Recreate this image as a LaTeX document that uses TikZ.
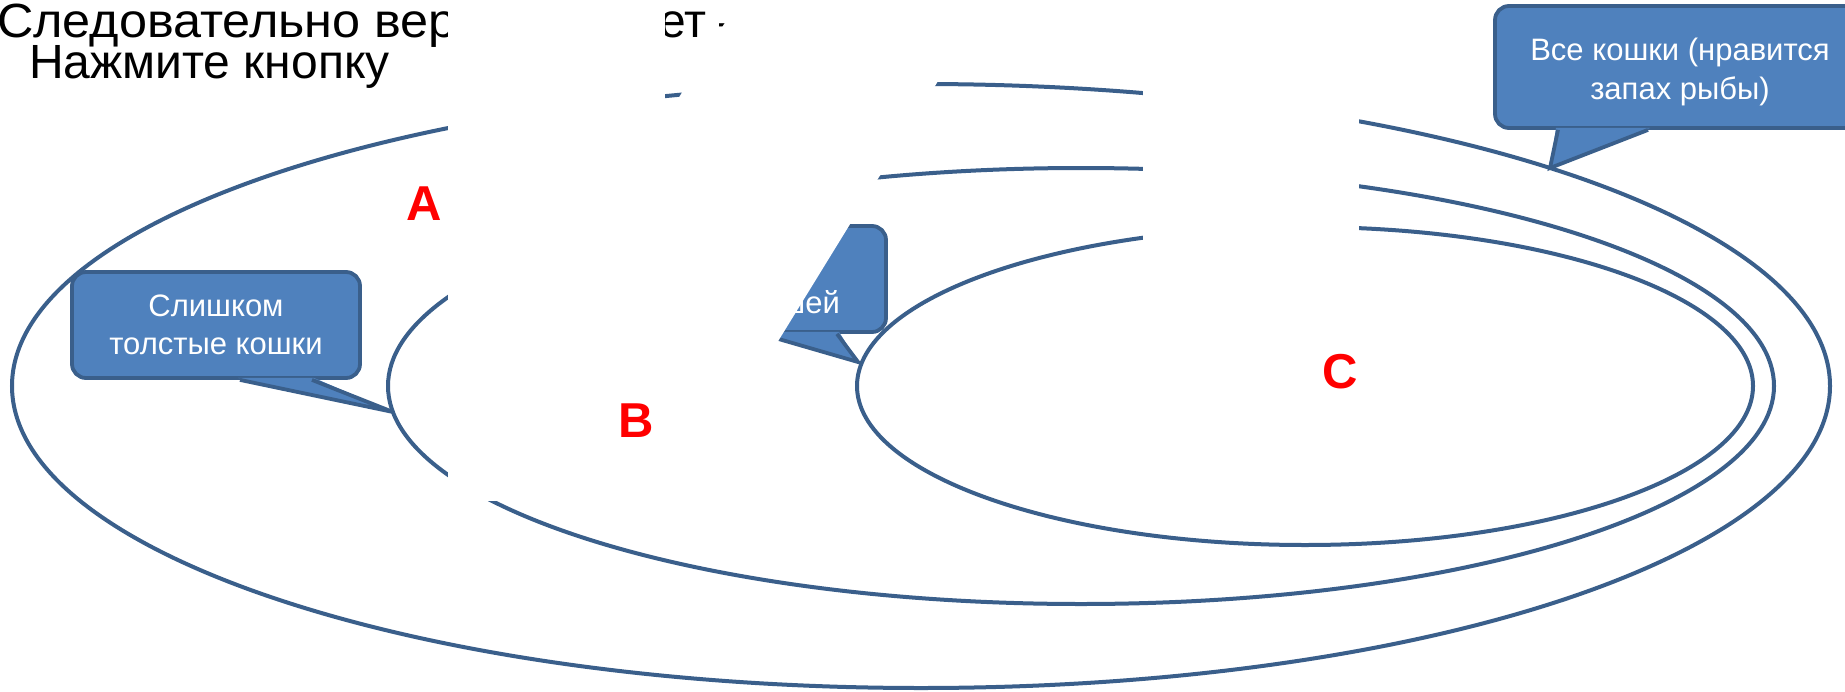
\documentclass[tikz,border=0pt]{standalone}
\usepackage{fontspec}
\setmainfont{Liberation Sans}
\usetikzlibrary{shapes.geometric}
\definecolor{lineblue}{HTML}{3A5F8B}
\definecolor{fillblue}{HTML}{4F81BD}
\tikzset{
  ring/.style={ellipse, draw=lineblue, line width=4pt, inner sep=0pt, outer sep=0pt},
  callbody/.style={draw=lineblue, fill=fillblue, line width=3.8pt, rounded corners=14pt, text=white, align=center, inner sep=0pt, font=\fontsize{31}{38}\selectfont},
  pointerline/.style={draw=lineblue, line width=3.8pt, line join=miter},
  calltext/.style={text=white, align=center, inner sep=0pt, font=\fontsize{31}{39}\selectfont},
  setletter/.style={text=red, font=\bfseries\fontsize{49}{49}\selectfont, inner sep=0pt},
  titletext/.style={font=\fontsize{48}{48}\selectfont, inner sep=0pt, anchor=base west, text depth=0pt},
  cover/.style={fill=white, draw=none},
}
\begin{document}
\begin{tikzpicture}[x=1pt,y=-1pt]
\useasboundingbox (0,0) rectangle (1845,691);
\clip (0,0) rectangle (1845,691);
\fill[white] (0,0) rectangle (1845,691);
% sets
\node[ring, minimum width=1818pt, minimum height=604pt] (setA) at (921,386) {};
\node[ring, minimum width=1386pt, minimum height=436pt] (setB) at (1081,386) {};
\node[ring, minimum width=896pt, minimum height=318pt] (setC) at (1305,386) {};
% letters
\node[setletter] (la) at (424,204) {A};
\node[setletter] (lb) at (636,421) {B};
\node[setletter] (lc) at (1340,372) {C};
% callout 1
\node[callbody, minimum width=288pt, minimum height=106pt] (c1) at (216,325) {Слишком\\толстые кошки};
\coordinate (t1) at (393,412);
\fill[fillblue] ([xshift=22pt,yshift=2pt]c1.south) -- ([xshift=98pt,yshift=2pt]c1.south) -- (t1) -- cycle;
\draw[pointerline] ([xshift=24pt]c1.south) -- (t1) -- ([xshift=96pt]c1.south);
% callout 2
\node[callbody, minimum width=371pt, minimum height=122pt] (c2) at (1680.5,67) {};
\node[calltext] (c2text) at (1680,72) {Все кошки (нравится\\запах рыбы)};
\coordinate (t2) at (1550,168);
\fill[fillblue] ([xshift=-124.5pt,yshift=2pt]c2.south) -- ([xshift=-30.5pt,yshift=2pt]c2.south) -- (t2) -- cycle;
\draw[pointerline] ([xshift=-122.5pt]c2.south) -- (t2) -- ([xshift=-32.5pt]c2.south);
% callout 3
\node[callbody, minimum width=288pt, minimum height=106pt] (c3) at (742,279) {};
\coordinate (t3) at (858,362);
\fill[fillblue] ([xshift=17pt,yshift=2pt]c3.south) -- ([xshift=97pt,yshift=2pt]c3.south) -- (t3) -- cycle;
\draw[pointerline] ([xshift=19pt]c3.south) -- (t3) -- ([xshift=95pt]c3.south);
\node[anchor=base east, inner sep=0pt, text=white, font=\fontsize{31}{38}\selectfont] (c3text) at (840,313) {мышей};
% title
\node[titletext, xscale=1.05] (title1) at (-3,37) {Следовательно вер};
\node[titletext] (title1b) at (659,37) {ет –};
\node[titletext] (title2) at (29,78) {Нажмите кнопку};
% covering shapes
\fill[cover] (448,-10) rectangle (665,398);
\fill[cover] (448,398) rectangle (600,501);
\fill[cover] (745,-10) -- (994,-10) -- (745,395) -- (496,395) -- cycle;
\fill[cover] (1143,-10) rectangle (1359,250);
\end{tikzpicture}
\end{document}
